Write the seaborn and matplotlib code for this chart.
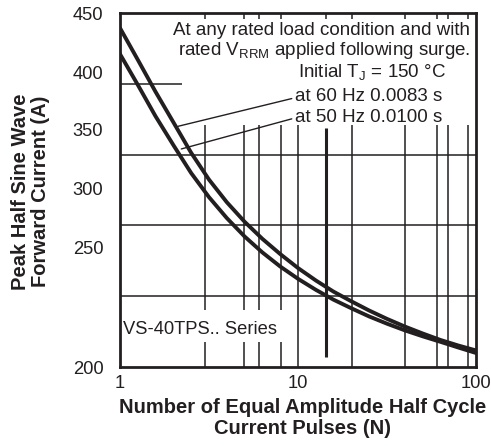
import matplotlib
matplotlib.use("Agg")
import matplotlib.pyplot as plt
import matplotlib.ticker as mticker
import pandas as pd
import seaborn as sns

# Curve readings: number of pulses N and peak current (A)
PULSES = [1, 1.26, 1.58, 2.0, 2.51, 3.16, 3.98, 5.01, 6.31, 7.94, 10,
          12.6, 15.8, 20.0, 25.1, 31.6, 39.8, 50.1, 63.1, 79.4, 100]
I_60HZ = [439.4, 416.9, 394.6, 372.6, 351.3, 332.4, 316.4, 302.6, 290.5, 279.8, 269.9,
          261.1, 253.3, 246.3, 239.9, 234.0, 228.6, 223.7, 219.1, 215.2, 211.7]
I_50HZ = [421.0, 399.2, 377.3, 356.5, 337.0, 320.0, 305.2, 292.2, 280.9, 271.0, 262.3,
          254.5, 247.6, 241.4, 235.7, 230.6, 225.9, 221.7, 217.8, 213.8, 209.9]

# Axis text
X_TICKS = [1, 10, 100]
X_TICK_LABELS = ["1", "10", "100"]
Y_TICK_LABELS = ["200", "250", "300", "350", "400", "450"]
# the datasheet prints the y labels off the grid, keep them where they sit
Y_LABEL_AT = [200, 284.7, 326.4, 367.4, 408.3, 450]

# Grid as drawn in the datasheet
H_GRID = [250, 300, 350]
H_GRID_SHORT = 400
V_GRID_BROKEN = [3, 5, 6, 8]
V_GRID = [10, 20, 40, 60, 70, 90]
TOP_TICKS = [3, 5, 6, 8, 10, 14.4, 20, 40, 60, 70, 90]
MARKER_N = 14.4

INK = "#231f20"

sns.set_theme(style="white")
plt.rcParams["font.family"] = ["Liberation Sans", "DejaVu Sans"]
plt.rcParams["mathtext.fontset"] = "custom"
plt.rcParams["mathtext.rm"] = "Liberation Sans"
plt.rcParams["mathtext.it"] = "Liberation Sans"
plt.rcParams["text.color"] = INK

fig = plt.figure(figsize=(4.91, 4.46), dpi=100)
ax = fig.add_axes([0.2444, 0.1771, 0.7251, 0.7937])

ax.set_xscale("log")
ax.set_xlim(1, 100)
ax.set_ylim(200, 450)

# grid lines (partial, like the original)
grid_kw = dict(color=INK, lw=1.1, zorder=1)
ax.hlines(H_GRID, 1, 100, **grid_kw)
ax.hlines(H_GRID_SHORT, 1, 2.23, **grid_kw)
ax.vlines(V_GRID_BROKEN, 200, 217.7, **grid_kw)
ax.vlines(V_GRID_BROKEN, 240.3, 370.9, **grid_kw)
ax.vlines(V_GRID, 200, 370.9, **grid_kw)
ax.vlines(MARKER_N, 207, 368.8, color=INK, lw=2.2, zorder=1)

# surge curves
curves = pd.DataFrame({
    "N": PULSES + PULSES,
    "I": I_60HZ + I_50HZ,
    "freq": ["60 Hz"] * len(PULSES) + ["50 Hz"] * len(PULSES),
})
sns.lineplot(data=curves, x="N", y="I", units="freq", estimator=None, ax=ax,
             color=INK, lw=2.8, sort=False, zorder=3)

# ticks
ax.xaxis.set_major_locator(mticker.FixedLocator(X_TICKS))
ax.xaxis.set_major_formatter(mticker.FixedFormatter(X_TICK_LABELS))
ax.xaxis.set_minor_locator(mticker.FixedLocator(TOP_TICKS))
ax.xaxis.set_minor_formatter(mticker.NullFormatter())
ax.tick_params(axis="x", which="major", bottom=True, top=False, length=0,
               pad=6, labelsize=13.2, labelcolor=INK)
ax.tick_params(axis="x", which="minor", bottom=False, top=True, direction="in",
               length=4.5, width=1.1, color=INK)
ax.set_yticks(Y_LABEL_AT)
ax.set_yticklabels(Y_TICK_LABELS)
ax.tick_params(axis="y", left=True, length=0, pad=12, labelsize=13.2, labelcolor=INK)

for spine in ax.spines.values():
    spine.set_color(INK)
    spine.set_linewidth(2.0)
    spine.set_zorder(4)

ax.set_xlabel("Number of Equal Amplitude Half Cycle\nCurrent Pulses (N)",
              fontsize=14.5, fontweight="bold", linespacing=1.1, color=INK)
ax.xaxis.set_label_coords(0.514, -0.088)
ax.set_ylabel("Peak Half Sine Wave\nForward Current (A)",
              fontsize=14.5, fontweight="bold", linespacing=1.1, color=INK)
ax.yaxis.set_label_coords(-0.196, 0.495)

# notes
note_kw = dict(transform=ax.transAxes, fontsize=13.5, color=INK)
ax.text(0.983, 0.952, "At any rated load condition and with",
        ha="right", va="center", **note_kw)
ax.text(0.983, 0.895, r"rated V$_{\mathregular{RRM}}$ applied following surge.",
        ha="right", va="center", **note_kw)
ax.text(0.5, 0.833, r"Initial T$_{\mathregular{J}}$ = 150 °C",
        ha="left", va="center", **note_kw)
ax.text(0.008, 0.107, "VS-40TPS.. Series", ha="left", va="center",
        transform=ax.transAxes, fontsize=13.2, color=INK)

leader = dict(arrowstyle="-", color=INK, lw=1.0, relpos=(0, 0.45),
              shrinkA=0, shrinkB=0)
ax.annotate("at 60 Hz 0.0083 s", xy=(2.12, 370.0), xycoords="data",
            xytext=(0.4916, 0.763), textcoords="axes fraction",
            ha="left", va="center", fontsize=13.5, color=INK, arrowprops=leader)
ax.annotate("at 50 Hz 0.0100 s", xy=(2.21, 354.0), xycoords="data",
            xytext=(0.4916, 0.706), textcoords="axes fraction",
            ha="left", va="center", fontsize=13.5, color=INK, arrowprops=leader)

fig.savefig("out.png", dpi=100)
